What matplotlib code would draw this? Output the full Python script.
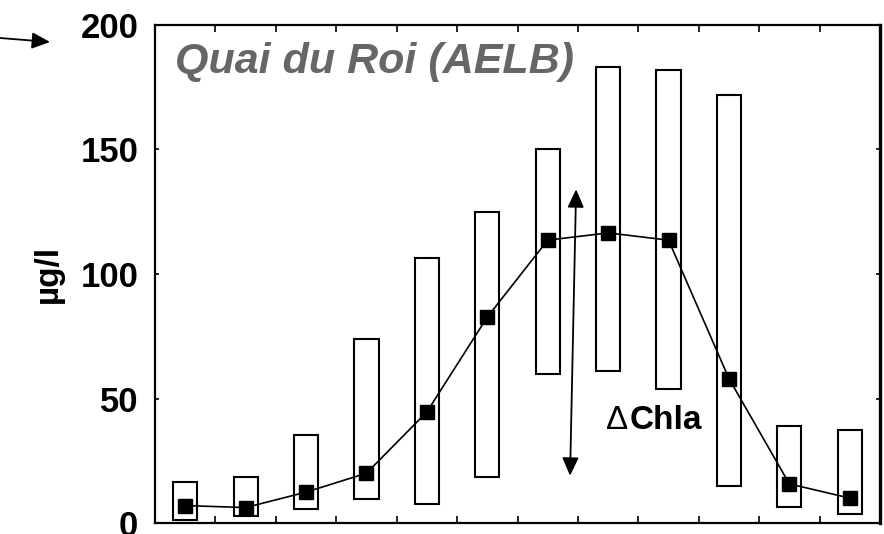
import matplotlib
matplotlib.use('Agg')
from matplotlib import pyplot as plt
from matplotlib.patches import Rectangle
import numpy as np

plt.rcParams['font.family'] = ['Liberation Sans', 'DejaVu Sans']

# monthly chlorophyll at Quai du Roi: min, max and mean (ug/l)
months = np.arange(1, 13)
chla_min = [1.2, 2.8, 5.6, 9.6, 7.6, 18.5, 60, 61, 54, 15, 6.4, 3.6]
chla_max = [16.5, 18.5, 35.3, 74, 106.5, 125, 150, 183, 182, 172, 39, 37.3]
chla_mean = [7, 6.2, 12.4, 20, 44.6, 82.7, 113.6, 116.5, 113.6, 58, 15.7, 10]

fig = plt.figure(figsize=(8.84, 5.34), dpi=100)
ax = fig.add_axes([155 / 884, 1 - 523 / 534, 725 / 884, 498 / 534])

box_w = 0.4
for m, lo, hi in zip(months, chla_min, chla_max):
    ax.add_patch(Rectangle((m - box_w / 2, lo), box_w, hi - lo,
                           facecolor='white', edgecolor='black', lw=1.5, zorder=2))

ax.plot(months, chla_mean, color='black', lw=1.2, marker='s', ms=9.5,
        mec='black', mfc='black', zorder=3)

ax.set_xlim(0.5, 12.5)
ax.set_ylim(0, 200)
ax.set_xticks(np.arange(1.5, 12, 1))
ax.set_xticklabels([])
ax.set_yticks([0, 50, 100, 150, 200])
ax.tick_params(axis='x', direction='in', top=True, bottom=True, length=5, width=1.2)
ax.tick_params(axis='y', direction='in', left=True, right=True, length=3, width=1.2,
               labelsize=25, pad=12)
for lbl in ax.get_yticklabels():
    lbl.set_fontweight('bold')
for side in ['left', 'bottom', 'top']:
    ax.spines[side].set_linewidth(1.6)
ax.spines['right'].set_linewidth(2.4)

ax.set_ylabel('µg/l', fontsize=24, fontweight='bold', labelpad=12)

ax.text(0.028, 0.904, 'Quai du Roi (AELB)', transform=ax.transAxes,
        fontsize=31, fontweight='bold', fontstyle='italic', color='#666666',
        ha='left', va='baseline')

# Delta Chla range arrow
ax.annotate('', xy=(7.47, 134), xytext=(7.37, 19),
            arrowprops=dict(arrowstyle='<|-|>,head_length=0.55,head_width=0.25',
                            mutation_scale=20, color='black', lw=1.3,
                            shrinkA=0, shrinkB=0))
ax.text(7.97, 37.8, 'Δ', fontsize=24, ha='left', va='baseline')
ax.text(8.35, 37.8, 'Chla', fontsize=24, fontweight='bold', ha='left', va='baseline')

# pointer arrow in the top-left corner
ax.annotate('', xy=(50 / 884, 1 - 42 / 534), xytext=(0, 1 - 38 / 534),
            xycoords='figure fraction', textcoords='figure fraction',
            annotation_clip=False,
            arrowprops=dict(arrowstyle='-|>,head_length=0.55,head_width=0.25',
                            mutation_scale=20, color='black', lw=1.3,
                            shrinkA=0, shrinkB=0))

fig.savefig('out.png', dpi=100)
